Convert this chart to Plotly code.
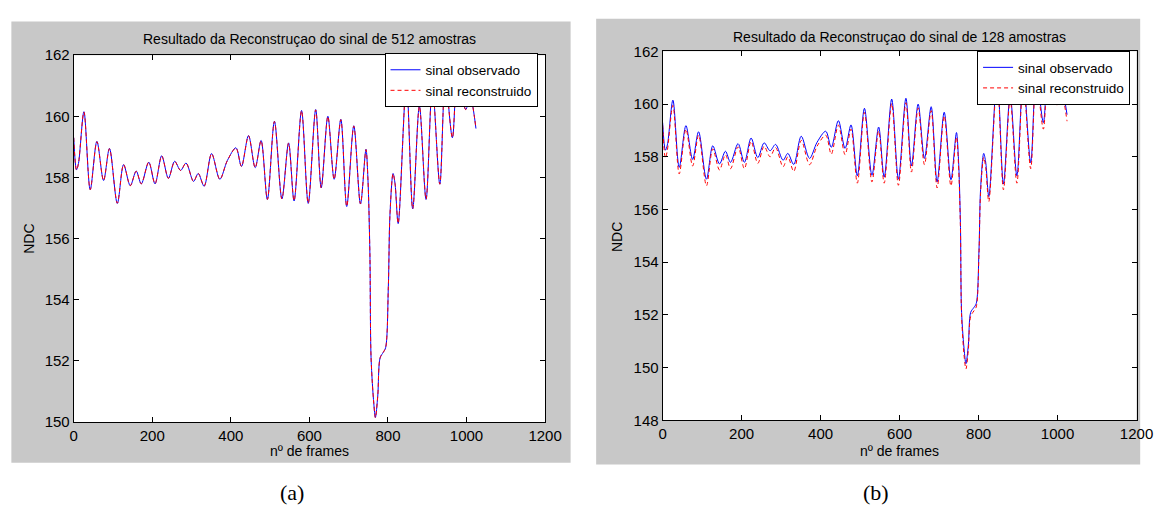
import plotly.graph_objects as go

W, H = 1167, 520

# ---------------- data ----------------
frames = [0, 7, 12, 26, 42, 59, 76, 91, 111, 127, 144, 159, 172, 191, 207, 224, 241,
          257, 272, 286, 305, 317, 332, 351, 372, 391, 413, 427, 445, 462, 477, 493,
          511, 530, 547, 561, 580, 597, 616, 630, 647, 663, 680, 695, 713, 730, 744,
          749, 754, 757, 764, 768, 774, 780, 788, 794, 801, 805, 813, 818, 826, 847,
          863, 880, 897, 913, 932, 946, 964, 977, 998, 1009, 1024]

observado = [159.30, 158.25, 158.45, 160.15, 157.60, 159.18, 157.90, 158.95, 157.15,
             158.42, 157.73, 158.21, 157.79, 158.50, 157.79, 158.71, 157.97, 158.53,
             158.23, 158.47, 157.87, 158.13, 157.71, 158.78, 157.94, 158.55, 158.97,
             158.36, 159.37, 158.32, 159.21, 157.28, 159.84, 157.30, 159.13, 157.23,
             160.19, 157.15, 160.22, 157.66, 160.00, 157.94, 159.90, 157.05, 159.69,
             157.13, 158.92, 157.95, 155.50, 152.10, 150.60, 150.15, 150.85, 152.10,
             152.28, 152.43, 154.44, 156.76, 158.13, 157.80, 156.49, 161.10, 156.97,
             160.34, 157.28, 161.00, 157.78, 161.20, 159.30, 161.30, 160.22, 160.65,
             159.60]

reconstruido_512 = [159.30, 158.24, 158.45, 160.14, 157.60, 159.17, 157.90, 158.94, 157.16,
                    158.42, 157.73, 158.20, 157.79, 158.50, 157.80, 158.70, 157.97, 158.52,
                    158.23, 158.47, 157.87, 158.13, 157.72, 158.78, 157.94, 158.55, 158.96,
                    158.36, 159.36, 158.32, 159.20, 157.28, 159.83, 157.30, 159.12, 157.24,
                    160.18, 157.16, 160.21, 157.66, 159.99, 157.94, 159.89, 157.06, 159.68,
                    157.14, 158.91, 157.95, 155.50, 152.10, 150.60, 150.14, 150.85, 152.10,
                    152.28, 152.43, 154.44, 156.76, 158.12, 157.80, 156.50, 161.10, 156.98,
                    160.33, 157.29, 161.00, 157.78, 161.20, 159.30, 161.30, 160.22, 160.64,
                    159.60]

reconstruido_128 = [159.20, 157.95, 158.25, 159.95, 157.35, 159.05, 157.65, 158.82, 156.90,
                    158.30, 157.50, 158.08, 157.55, 158.38, 157.55, 158.58, 157.75, 158.40,
                    158.00, 158.35, 157.62, 158.00, 157.45, 158.62, 157.70, 158.40, 158.82,
                    158.10, 159.20, 158.08, 159.05, 157.00, 159.68, 157.05, 158.98, 157.00,
                    160.02, 156.92, 160.05, 157.42, 159.85, 157.70, 159.75, 156.82, 159.55,
                    156.90, 158.75, 157.75, 155.35, 151.95, 150.35, 149.95, 150.65, 151.95,
                    152.15, 152.30, 154.30, 156.60, 157.98, 157.60, 156.30, 160.95, 156.75,
                    160.18, 157.00, 160.85, 157.55, 161.05, 159.05, 161.15, 159.95, 160.45,
                    159.35]

x_ticks = [0, 200, 400, 600, 800, 1000, 1200]
y_ticks_a = [150, 152, 154, 156, 158, 160, 162]
y_ticks_b = [148, 150, 152, 154, 156, 158, 160, 162]

titulo_a = "Resultado da Reconstruçao do sinal de 512 amostras"
titulo_b = "Resultado da Reconstruçao do sinal de 128 amostras"
nome_obs = "sinal observado"
nome_rec = "sinal reconstruido"

# ---------------- styling ----------------
FONT = "Liberation Sans, Arial, sans-serif"
GREY = "#c8c8c8"
BLUE = "#0000ff"
RED = "#ff0000"

# plot-area boxes in pixels (left, right, top, bottom)
BOX_A = (71, 551, 47.7, 427)
BOX_B = (670.7, 1153.3, 43.8, 425.3)


def px(x):
    return x / W


def py(y):
    return 1 - y / H


fig = go.Figure()

line_kw = dict(width=1, shape="spline", smoothing=0.9)
# panel (a)
fig.add_trace(go.Scatter(x=frames, y=observado, mode="lines", name=nome_obs,
                         line=dict(color=BLUE, **line_kw),
                         xaxis="x", yaxis="y", legend="legend"))
fig.add_trace(go.Scatter(x=frames, y=reconstruido_512, mode="lines", name=nome_rec,
                         line=dict(color=RED, dash="4px,3px", **line_kw),
                         xaxis="x", yaxis="y", legend="legend"))
# panel (b)
fig.add_trace(go.Scatter(x=frames, y=observado, mode="lines", name=nome_obs,
                         line=dict(color=BLUE, **line_kw),
                         xaxis="x2", yaxis="y2", legend="legend2"))
fig.add_trace(go.Scatter(x=frames, y=reconstruido_128, mode="lines", name=nome_rec,
                         line=dict(color=RED, dash="4px,3px", **line_kw),
                         xaxis="x2", yaxis="y2", legend="legend2"))

axis_common = dict(showgrid=False, zeroline=False, showline=True, linecolor="black",
                   linewidth=1, mirror="allticks", ticks="inside", ticklen=5,
                   tickcolor="black", tickwidth=1,
                   tickfont=dict(family=FONT, size=15, color="#000000"))

legend_common = dict(xanchor="right", yanchor="top", bgcolor="white",
                     bordercolor="black", borderwidth=1,
                     font=dict(family=FONT, size=13.5, color="black"),
                     tracegroupgap=0, itemwidth=30)

fig.update_layout(
    width=W, height=H,
    margin=dict(l=0, r=0, t=0, b=0),
    paper_bgcolor="white", plot_bgcolor="white",
    xaxis=dict(domain=[px(BOX_A[0]), px(BOX_A[1])], range=[0, 1200], tickvals=x_ticks,
               anchor="y", **axis_common),
    yaxis=dict(domain=[py(BOX_A[3]), py(BOX_A[2])], range=[150, 162], tickvals=y_ticks_a,
               anchor="x", **axis_common),
    xaxis2=dict(domain=[px(BOX_B[0]), px(BOX_B[1])], range=[0, 1200], tickvals=x_ticks,
                anchor="y2", **axis_common),
    yaxis2=dict(domain=[py(BOX_B[3]), py(BOX_B[2])], range=[148, 162], tickvals=y_ticks_b,
                anchor="x2", **axis_common),
    legend=dict(x=px(543.3), y=py(46), **legend_common),
    legend2=dict(x=px(1146.7), y=py(43.5), **legend_common),
    showlegend=True,
)

# grey figure backgrounds, then white axes areas on top of them
fig.add_shape(type="rect", xref="paper", yref="paper", layer="below",
              x0=px(7.5), x1=px(577), y0=py(469), y1=py(13),
              fillcolor=GREY, line=dict(width=0))
fig.add_shape(type="rect", xref="paper", yref="paper", layer="below",
              x0=px(603), x1=px(1157), y0=py(471), y1=py(10),
              fillcolor=GREY, line=dict(width=0))
for (l, r, t, b) in (BOX_A, BOX_B):
    fig.add_shape(type="rect", xref="paper", yref="paper", layer="below",
                  x0=px(l), x1=px(r), y0=py(b), y1=py(t),
                  fillcolor="white", line=dict(width=0))

ann_font = dict(family=FONT, size=14, color="black")
for (xc, yc, txt) in [(311, 31.5, titulo_a), (912, 28.5, titulo_b)]:
    fig.add_annotation(x=px(xc), y=py(yc), xref="paper", yref="paper", text=txt,
                       showarrow=False, font=ann_font, xanchor="center", yanchor="middle")
for (xc, yc) in [(311, 457), (912, 457)]:
    fig.add_annotation(x=px(xc), y=py(yc), xref="paper", yref="paper", text="nº de frames",
                       showarrow=False, font=ann_font, xanchor="center", yanchor="middle")
for (xc, yc) in [(26, 238), (625, 236)]:
    fig.add_annotation(x=px(xc), y=py(yc), xref="paper", yref="paper", text="NDC",
                       showarrow=False, font=ann_font, textangle=-90,
                       xanchor="center", yanchor="middle")
for (xc, yc, txt) in [(293, 500, "(a)"), (888, 500, "(b)")]:
    fig.add_annotation(x=px(xc), y=py(yc), xref="paper", yref="paper", text=txt,
                       showarrow=False,
                       font=dict(family="Liberation Serif, Times New Roman, serif", size=22,
                                 color="black"),
                       xanchor="center", yanchor="middle")

fig.write_html("out.html")
